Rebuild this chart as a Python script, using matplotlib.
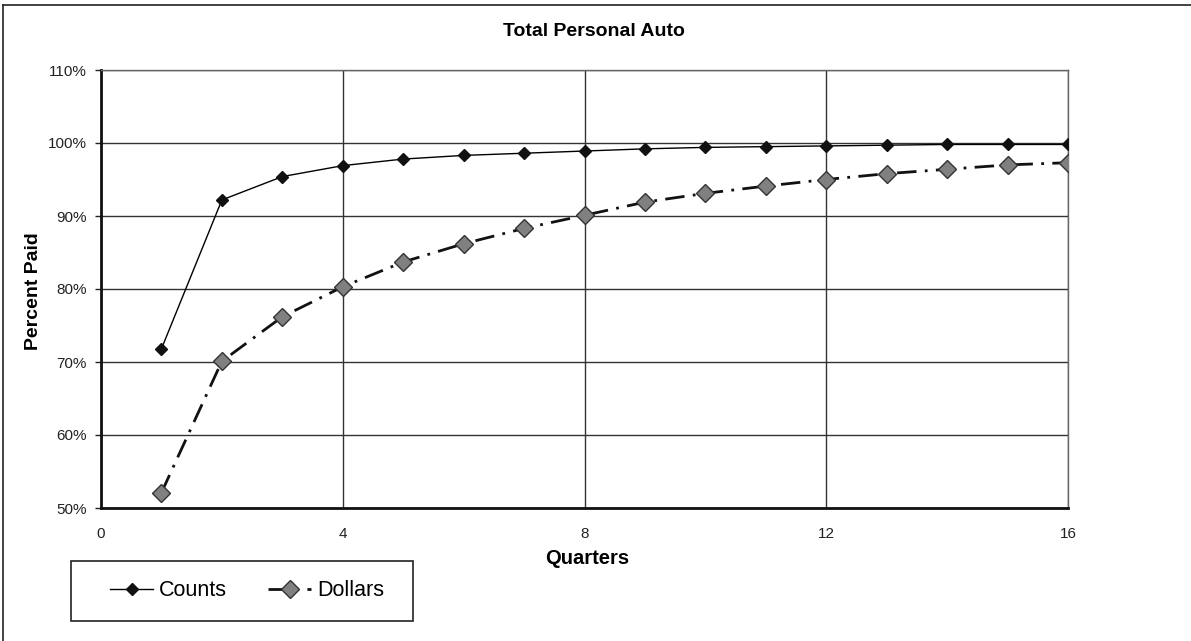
import matplotlib
matplotlib.use("Agg")
import matplotlib.pyplot as plt
from matplotlib.ticker import FuncFormatter
from matplotlib.lines import Line2D
from matplotlib.patches import Rectangle

plt.rcParams['font.family'] = ['Liberation Sans', 'DejaVu Sans']

quarters = list(range(1, 17))
counts = [71.8, 92.2, 95.4, 96.9, 97.8, 98.3, 98.6, 98.9, 99.2, 99.4, 99.5, 99.6, 99.7, 99.8, 99.8, 99.8]
dollars = [52.1, 70.1, 76.2, 80.3, 83.7, 86.2, 88.3, 90.1, 91.9, 93.1, 94.1, 95.0, 95.8, 96.4, 97.0, 97.3]
x_ticks = [0, 4, 8, 12, 16]
y_ticks = [50, 60, 70, 80, 90, 100, 110]

W, H = 1191, 641
fig = plt.figure(figsize=(W / 100, H / 100), dpi=100)
ax = fig.add_axes([101 / W, 1 - 508 / H, (1068 - 101) / W, (508 - 70) / H])

ax.plot(quarters, counts, color='black', lw=1.0, marker='D', ms=6,
        mfc='#111111', mec='#111111', zorder=4, label='Counts')
ax.plot(quarters, dollars, color='#111111', lw=2.0, dashes=(7, 3, 1, 3),
        marker='D', ms=9, mfc='#808080', mec='#333333', mew=1.0, zorder=4,
        label='Dollars')

ax.set_xlim(0, 16)
ax.set_ylim(50, 110)
ax.set_xticks(x_ticks)
ax.set_yticks(y_ticks)
ax.yaxis.set_major_formatter(FuncFormatter(lambda v, p: f"{int(v)}%"))
ax.grid(True, color='#333333', lw=1.0)
ax.set_axisbelow(True)
ax.tick_params(axis='x', length=0, pad=14, labelsize=11, colors='#222222')
ax.tick_params(axis='y', length=4, width=1, pad=6, labelsize=11, colors='#222222')
for s in ['top', 'right']:
    ax.spines[s].set_color('#666666')
    ax.spines[s].set_linewidth(1.0)
for s in ['left', 'bottom']:
    ax.spines[s].set_color('#111111')
    ax.spines[s].set_linewidth(2.0)

fig.text(594 / W, 1 - 32 / H, 'Total Personal Auto', ha='center', va='center',
         fontsize=14, fontweight='bold')
fig.text(587 / W, 1 - 558 / H, 'Quarters', ha='center', va='center',
         fontsize=14.5, fontweight='bold')
fig.text(34 / W, 1 - 291 / H, 'Percent Paid', ha='center', va='center',
         fontsize=14, fontweight='bold', rotation=90)

# Outer frame
fig.add_artist(Line2D([3 / W, 1], [1 - 5 / H, 1 - 5 / H], transform=fig.transFigure,
                      color='#222222', lw=1.2))
fig.add_artist(Line2D([3 / W, 3 / W], [0, 1 - 5 / H], transform=fig.transFigure,
                      color='#222222', lw=1.2))

# Legend box
fig.add_artist(Rectangle((71 / W, 1 - 621 / H), (413 - 71) / W, 60 / H,
                         transform=fig.transFigure, fill=False,
                         edgecolor='#222222', lw=1.2))
leg = fig.legend(loc='center left', bbox_to_anchor=(110 / W, 1 - 591 / H),
                 bbox_transform=fig.transFigure, ncol=2, frameon=False,
                 fontsize=15.5, handlelength=2.0, handletextpad=0.28,
                 columnspacing=1.9, borderpad=0, borderaxespad=0)

fig.savefig('out.png', dpi=100, facecolor='white')
